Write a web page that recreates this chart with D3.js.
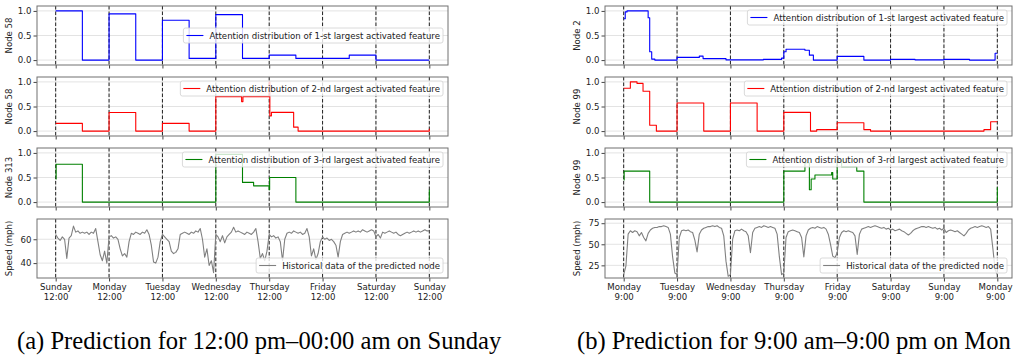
<!DOCTYPE html>
<html>
<head>
<meta charset="utf-8">
<script src="https://cdn.jsdelivr.net/npm/d3@7"></script>
<style>
  body { margin: 0; background: #fff; }
  svg { display: block; }
  text { font-family: "DejaVu Sans", sans-serif; }
</style>
</head>
<body>
<svg id="chart" width="1013" height="358"></svg>
<script>
// ---- data ----
const hourTicks = [0, 24, 48, 72, 96, 120, 144, 168];
const daysA = ["Sunday", "Monday", "Tuesday", "Wednesday", "Thursday", "Friday", "Saturday", "Sunday"];
const daysB = ["Monday", "Tuesday", "Wednesday", "Thursday", "Friday", "Saturday", "Sunday", "Monday"];
const clockA = "12:00";
const clockB = "9:00";
const captionA = "(a) Prediction for 12:00 pm\u201300:00 am on Sunday";
const captionB = "(b) Prediction for 9:00 am\u20139:00 pm on Mon";

const legendNames = [
  "Attention distribution of 1-st largest activated feature",
  "Attention distribution of 2-nd largest activated feature",
  "Attention distribution of 3-rd largest activated feature",
  "Historical data of the predicted node"
];
const nodeLabelsA = ["Node 58", "Node 58", "Node 313", "Speed (mph)"];
const nodeLabelsB = ["Node 2", "Node 99", "Node 99", "Speed (mph)"];

// attention steps (hours since first tick, value)
const featA1Hours = [0, 12, 24, 36, 48, 60, 72, 84, 96, 108, 132, 144, 168];
const featA1Values = [1.0, 0.0, 0.94, 0.0, 0.81, 0.034, 0.925, 0.034, 0.10, 0.034, 0.10, 0.0, 0.0];
const featA2Hours = [0, 12, 24, 36, 48, 60, 72, 83.6, 84.2, 96, 96.3, 97, 107, 109, 168];
const featA2Values = [0.157, 0, 0.377, 0, 0.157, 0, 0.70, 0.60, 0.70, 1.0, 0.31, 0.38, 0.08, 0, 0.05];
const featA3Hours = [0, 0.2, 12, 72, 84, 89, 96, 96.2, 108, 168];
const featA3Values = [0.47, 0.77, 0, 0.97, 0.40, 0.33, 0.25, 0.50, 0, 0.25];

const featB1Hours = [0, 0.7, 1.5, 11, 11.7, 12.6, 14, 24, 34, 35.7, 46, 62.8, 71, 72, 73, 81.5, 83.5, 85.3, 96, 108, 120, 131, 144, 155.5, 167, 168];
const featB1Values = [0.84, 0.98, 1.0, 0.86, 0.17, 0.02, 0.0, 0.055, 0.08, 0.03, 0.005, 0.015, 0.04, 0.17, 0.22, 0.20, 0.10, 0.0, 0.075, 0.0, 0.015, 0.005, 0.015, 0.0, 0.14, 0.14];
const featB2Hours = [0, 3, 6, 8.7, 11.7, 14.7, 24, 36, 48, 60, 72, 84, 86.8, 96, 108, 111, 162, 165, 168];
const featB2Values = [0.87, 1.0, 0.97, 0.81, 0.12, 0.0, 0.57, 0.0, 0.57, 0.0, 0.38, 0.0, 0.03, 0.17, 0.03, 0.0, 0.03, 0.19, 0.19];
const featB3Hours = [0, 0.2, 11.7, 72, 81.5, 83.5, 84.3, 86, 93.5, 94, 96, 98, 104.8, 108, 168];
const featB3Values = [0.45, 0.63, 0, 0.63, 0.80, 0.25, 0.47, 0.55, 0.60, 0.47, 0.85, 0.72, 0.63, 0, 0.30];

// hourly speed (mph)
const speedA = [
  64, 61, 59, 62, 60, 44, 61, 63, 71, 66, 67, 65, 66, 65, 66, 64, 66, 65, 69, 58, 47, 42, 50, 40,
  62, 63, 61, 62, 60, 52, 46, 48, 45, 58, 65, 64, 66, 65, 64, 66, 65, 68, 64, 55, 41, 40, 45, 58,
  64, 62, 60, 58, 50, 48, 49, 52, 64, 65, 66, 65, 64, 66, 65, 67, 66, 69, 60, 45, 52, 38, 42, 32,
  64, 62, 58, 63, 57, 62, 64, 66, 70, 66, 67, 66, 65, 64, 66, 65, 64, 66, 69, 58, 44, 48, 42, 50,
  64, 62, 63, 61, 62, 58, 42, 60, 65, 66, 65, 67, 66, 65, 66, 64, 65, 69, 62, 46, 52, 43, 48, 58,
  62, 60, 61, 59, 60, 58, 55, 45, 58, 64, 65, 66, 65, 66, 67, 66, 67, 66, 68, 67, 66, 67, 68, 67,
  62, 64, 61, 66, 65, 66, 67, 66, 65, 66, 64, 63, 64, 65, 66, 65, 66, 67, 66, 67, 66, 67, 68, 67,
  67
];
const speedB = [
  14, 24, 62, 66, 64, 66, 65, 60, 64, 58, 54, 63, 67, 69, 70, 70, 71, 71, 72, 71, 70, 62, 35, 16,
  14, 58, 66, 67, 66, 67, 65, 64, 55, 41, 62, 67, 69, 70, 71, 71, 72, 71, 72, 70, 69, 60, 30, 12,
  14, 56, 66, 67, 66, 68, 66, 65, 60, 40, 64, 69, 70, 71, 70, 72, 71, 70, 71, 70, 69, 62, 35, 14,
  16, 58, 65, 66, 67, 66, 65, 64, 58, 35, 60, 67, 69, 70, 69, 71, 70, 69, 70, 68, 62, 50, 36, 34,
  40, 58, 64, 66, 65, 66, 65, 64, 60, 38, 62, 68, 69, 70, 71, 70, 71, 72, 71, 70, 69, 70, 68, 69,
  67, 68, 66, 67, 68, 66, 65, 63, 61, 63, 66, 68, 69, 70, 71, 71, 70, 71, 70, 69, 70, 68, 69, 67,
  69, 64, 66, 67, 66, 65, 66, 64, 62, 60, 63, 67, 69, 70, 71, 70, 71, 72, 71, 70, 71, 68, 45, 20,
  14
];

// ---- layout ----
const svg = d3.select("#chart");
const W = 1013;
const rowTops = [6, 77, 148, 219];
const rowH = 59;
const axW = 411;
const fontSize = 8.6;

const panels = [
  {
    x0: 37, days: daysA, clock: clockA, caption: captionA, capX: 17, labels: nodeLabelsA,
    rows: [
      { hours: featA1Hours, values: featA1Values, color: "blue", legend: "middle" },
      { hours: featA2Hours, values: featA2Values, color: "red", legend: "top" },
      { hours: featA3Hours, values: featA3Values, color: "green", legend: "top" },
      { speed: speedA, domain: [27.5, 77], ticks: [40, 60], color: "gray", legend: "bottom" }
    ]
  },
  {
    x0: 605, days: daysB, clock: clockB, caption: captionB, capX: 577, labels: nodeLabelsB,
    rows: [
      { hours: featB1Hours, values: featB1Values, color: "blue", legend: "top" },
      { hours: featB2Hours, values: featB2Values, color: "red", legend: "top" },
      { hours: featB3Hours, values: featB3Values, color: "green", legend: "top" },
      { speed: speedB, domain: [10, 80], ticks: [25, 50, 75], color: "gray", legend: "bottom" }
    ]
  }
];

panels.forEach(p => {
  const x = d3.scaleLinear().domain([-8.4, 176.4]).range([p.x0, p.x0 + axW]);
  const x1 = Math.min(p.x0 + axW, W - 1);   // right panel runs off the page

  p.rows.forEach((r, i) => {
    const top = rowTops[i];
    const bottom = top + rowH;
    const y = d3.scaleLinear()
      .domain(r.speed ? r.domain : [-0.1, 1.1])
      .range([bottom, top]);
    const yTicks = r.speed ? r.ticks : [0, 0.5, 1.0];

    const g = svg.append("g");

    // grid
    g.selectAll(".hgrid").data(yTicks).enter().append("line")
      .attr("x1", p.x0).attr("x2", x1)
      .attr("y1", d => y(d)).attr("y2", d => y(d))
      .attr("stroke", "#e3e3e3").attr("stroke-width", 1);
    g.selectAll(".vgrid").data(hourTicks).enter().append("line")
      .attr("x1", d => x(d)).attr("x2", d => x(d))
      .attr("y1", top).attr("y2", bottom)
      .attr("stroke", "#e3e3e3").attr("stroke-width", 1);

    // day separators
    g.selectAll(".dash").data(hourTicks).enter().append("line")
      .attr("x1", d => x(d)).attr("x2", d => x(d))
      .attr("y1", top).attr("y2", bottom)
      .attr("stroke", "#222").attr("stroke-width", 1)
      .attr("stroke-dasharray", "3.5,2");

    // series
    let line, data;
    if (r.speed) {
      data = r.speed.map((v, h) => [h, v]);
      line = d3.line().x(d => x(d[0])).y(d => y(d[1]));
    } else {
      data = r.hours.map((h, k) => [h, r.values[k]]);
      line = d3.line().curve(d3.curveStepAfter).x(d => x(d[0])).y(d => y(d[1]));
    }
    g.append("path").datum(data)
      .attr("d", line)
      .attr("fill", "none")
      .attr("stroke", r.color)
      .attr("stroke-width", 1.1)
      .attr("stroke-linejoin", "round");

    // y axis
    const yAxis = g.append("g")
      .attr("transform", `translate(${p.x0},0)`)
      .call(d3.axisLeft(y).tickValues(yTicks)
        .tickFormat(r.speed ? d3.format("d") : d3.format(".1f"))
        .tickSize(3.5).tickPadding(2));
    yAxis.select(".domain").remove();
    yAxis.selectAll(".tick line").attr("stroke", "#444");
    yAxis.selectAll(".tick text").attr("fill", "#222")
      .style("font-size", fontSize + "px").style("font-family", "DejaVu Sans");

    // x axis
    const xAxis = g.append("g")
      .attr("transform", `translate(0,${bottom})`)
      .call(d3.axisBottom(x).tickValues(hourTicks).tickFormat("").tickSize(3.5));
    xAxis.select(".domain").remove();
    xAxis.selectAll(".tick line").attr("stroke", "#444");
    if (i === 3) {
      xAxis.selectAll(".tick text").each(function (d, k) {
        const t = d3.select(this).attr("y", 6).attr("fill", "#222")
          .style("font-size", fontSize + "px").style("font-family", "DejaVu Sans");
        t.append("tspan").attr("x", 0).attr("dy", "0.71em").text(p.days[k]);
        t.append("tspan").attr("x", 0).attr("dy", "1.15em").text(p.clock);
        // keep the last label inside the window
        const bb = this.getBBox();
        const right = x(d) + bb.x + bb.width;
        if (right > W - 1) t.selectAll("tspan").attr("x", W - 1 - right);
      });
    }

    // frame
    g.append("rect")
      .attr("x", p.x0).attr("y", top)
      .attr("width", x1 - p.x0).attr("height", rowH)
      .attr("fill", "none").attr("stroke", "#707070").attr("stroke-width", 1);

    // y label
    g.append("text")
      .attr("transform", `translate(${p.x0 - 25},${top + rowH / 2}) rotate(-90)`)
      .attr("text-anchor", "middle")
      .attr("fill", "#222")
      .style("font-size", fontSize + "px")
      .text(p.labels[i]);

    // legend
    const lg = g.append("g");
    const bg = lg.append("rect").attr("rx", 2)
      .attr("fill", "#fff").attr("fill-opacity", 0.8)
      .attr("stroke", "#d0d0d0").attr("stroke-width", 0.8);
    const txt = lg.append("text")
      .attr("fill", "#222")
      .style("font-size", fontSize + "px")
      .text(legendNames[i]);
    const tw = txt.node().getComputedTextLength();
    const lw = tw + 29;
    const lh = 15;
    const lx = x1 - 5 - lw;
    let ly;
    if (r.legend === "top") ly = top + 4;
    else if (r.legend === "bottom") ly = bottom - 5 - lh;
    else ly = top + (rowH - lh) / 2;
    bg.attr("x", lx).attr("y", ly).attr("width", lw).attr("height", lh);
    lg.append("line")
      .attr("x1", lx + 3).attr("x2", lx + 20)
      .attr("y1", ly + lh / 2).attr("y2", ly + lh / 2)
      .attr("stroke", r.color).attr("stroke-width", 1.1);
    txt.attr("x", lx + 26).attr("y", ly + lh / 2).attr("dy", "0.35em");
  });

  // caption
  svg.append("text")
    .attr("x", p.capX).attr("y", 349)
    .attr("fill", "#000")
    .style("font-family", "'Liberation Serif', 'Times New Roman', serif")
    .style("font-size", "24.6px")
    .text(p.caption);
});
</script>
</body>
</html>
